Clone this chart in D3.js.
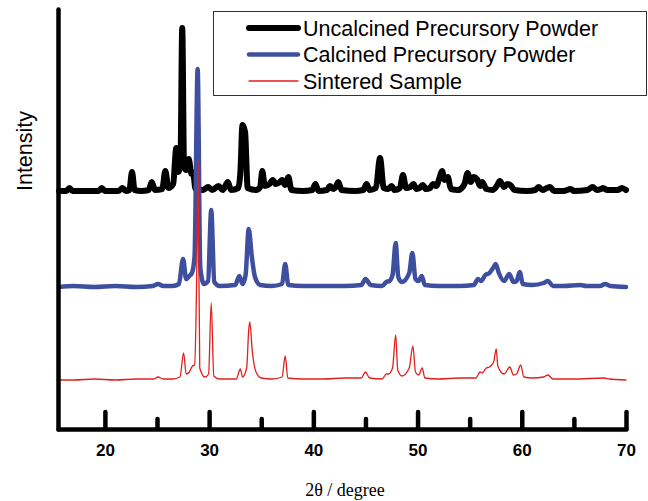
<!DOCTYPE html>
<html lang="en">
<head>
    <meta charset="utf-8">
    <title>XRD</title>
    <script src="https://d3js.org/d3.v7.min.js"></script>
    <style>
        body { margin: 0; background: #fff; }
    </style>
</head>
<body>
<svg width="648" height="501"></svg>
<script>
    // 2θ (degree), intensity (a.u.)
    var uncalcined = [
        [15.6,1],[16.3,1],[16.6,4],[16.9,1],[18.0,1],[19.4,1],[19.7,4],[20.0,1],[21.3,1],[21.7,4],[22.0,1],
        [22.35,2],[22.6,20],[22.85,2],[23.5,1],[24.2,2],[24.5,10],[24.8,2],[25.5,3],[25.8,21],[26.1,4],
        [26.55,8],[26.85,44],[27.05,20],[27.25,30],[27.42,164],[27.6,25],[27.8,22],[28.05,33],[28.3,18],
        [28.45,20],[28.7,3],[29.4,2],[29.9,5],[30.3,2],[30.9,6],[31.3,2],[31.8,10],[32.1,2],[32.8,4],
        [33.0,20],[33.2,67],[33.45,60],[33.7,4],[34.5,2],[34.9,5],[35.1,21],[35.35,6],[35.8,8],[36.1,12],
        [36.4,8],[36.8,10],[37.0,12],[37.3,7],[37.6,15],[37.9,2],[39.0,1],[39.9,2],[40.2,8],[40.5,1],
        [41.3,2],[41.6,6],[41.9,3],[42.2,6],[42.4,10],[42.7,2],[44.0,1],[44.8,2],[45.1,8],[45.4,2],
        [46.0,4],[46.4,34],[46.75,4],[47.2,3],[47.5,6],[47.8,2],[48.3,4],[48.6,17],[48.9,4],[49.3,5],
        [49.6,8],[49.9,3],[50.2,4],[50.5,7],[50.8,3],[51.2,4],[51.5,8],[51.8,6],[52.1,14],[52.35,21],
        [52.6,12],[52.9,15],[53.2,3],[53.9,2],[54.5,8],[54.8,19],[55.1,10],[55.4,15],[55.7,13],[56.0,6],
        [56.2,10],[56.6,3],[57.2,2],[57.6,6],[57.9,11],[58.3,5],[58.6,8],[58.9,7],[59.3,2],[60.5,1],
        [61.3,2],[61.6,5],[62.0,2],[62.4,4],[62.7,5],[63.1,1],[64.0,1],[64.7,3],[65.0,1],[66.3,2],
        [66.8,5],[67.2,2],[67.6,3],[67.8,4],[68.2,2],[69.2,2],[69.6,4],[70,2]
    ];
    var calcined = [
        [15.6,0],[17,1],[19,0],[21,1],[23,0],[24.6,1],[25.1,3],[25.6,1],[26.5,1],[27.1,3],[27.5,28],
        [27.8,8],[28.1,11],[28.35,14],[28.6,30],[28.9,218],[29.15,20],[29.5,3],[29.9,6],[30.2,77],[30.5,5],
        [31,1],[32.5,2],[32.9,11],[33.2,3],[33.5,12],[33.8,58],[34.1,30],[34.4,10],[34.9,2],[36,1],
        [37.0,3],[37.3,23],[37.6,2],[39,1],[41,1],[43,1],[44.6,2],[45.0,8],[45.5,2],[46.6,1],[47.0,5],
        [47.3,6],[47.6,12],[47.9,44],[48.15,10],[48.5,5],[49.2,14],[49.5,34],[49.8,8],[50.1,6],[50.4,11],
        [50.7,2],[52,1],[54,1],[55.4,2],[55.8,8],[56.1,6],[56.5,12],[56.9,14],[57.3,20],[57.5,23],
        [57.8,14],[58.3,6],[58.8,13],[59.2,5],[59.5,6],[59.8,15],[60.1,3],[61,2],[62.1,4],[62.5,6],
        [63.0,1],[64,1],[65.6,2],[66.2,1],[67.5,1],[68.0,3],[68.5,1],[70,0]
    ];
    var sintered = [
        [15.6,0],[17,0],[19,1],[21,0],[23,1],[24.7,1],[25.1,3],[25.6,1],[26.5,1],[27.2,3],[27.55,27],
        [27.8,6],[28.1,8],[28.4,14],[28.6,15],[28.8,100],[28.93,218],[29.1,12],[29.6,3],[29.95,6],[30.2,77],
        [30.45,4],[31,1],[32.6,1],[33.0,11],[33.2,3],[33.6,12],[33.8,50],[33.9,58],[34.15,28],[34.5,8],
        [35,2],[36,1],[37.0,3],[37.3,24],[37.55,2],[39,1],[41,1],[43,2],[44.6,2],[45.0,8],[45.4,2],
        [46.6,1],[47.0,6],[47.2,6],[47.6,12],[47.9,45],[48.1,10],[48.5,4],[49.2,12],[49.55,34],[49.8,8],
        [50.1,5],[50.45,12],[50.7,2],[52,1],[54,2],[55.6,2],[56.0,8],[56.2,7],[56.6,12],[56.9,13],
        [57.3,18],[57.55,31],[57.7,14],[58.3,6],[58.85,13],[59.2,5],[59.5,6],[59.9,15],[60.2,3],[61,2],
        [62.1,3],[62.5,5],[63.0,1],[65,1],[67.9,2],[68.4,1],[70,0]
    ];
    var seriesNames = ["Uncalcined Precursory Powder", "Calcined Precursory Powder", "Sintered Sample"];
    var seriesOffsets = [237, 142, 49];   // vertical stacking of the patterns
    var majorTicks = [20, 30, 40, 50, 60, 70];
    var minorTicks = [25, 35, 45, 55, 65];

    var colors = ["#000000", "#3f4fa0", "#e0201e"];
    var widths = [6, 4.5, 1.3];

    var svg = d3.select("svg");
    var x = d3.scaleLinear().domain([15.5, 70]).range([58, 626]);
    var y = d3.scaleLinear().domain([0, 420]).range([429, 9]);

    var allSeries = [uncalcined, calcined, sintered];

    allSeries.forEach(function(d, i){
        var line = d3.line()
            .curve(d3.curveMonotoneX)
            .x(function(p){ return x(p[0]); })
            .y(function(p){ return y(p[1] + seriesOffsets[i]); });
        svg.append("path")
            .datum(d)
            .attr("d", line)
            .attr("fill", "none")
            .attr("stroke", colors[i])
            .attr("stroke-width", widths[i])
            .attr("stroke-linejoin", "round")
            .attr("stroke-linecap", "round");
    });

    // x axis, ticks pointing inward
    var xAxis = d3.axisBottom(x)
        .tickValues(majorTicks)
        .tickSize(-17)
        .tickSizeOuter(0)
        .tickPadding(15);
    var gx = svg.append("g")
        .attr("transform", "translate(0," + 429 + ")")
        .call(xAxis);
    var gxMinor = svg.append("g")
        .attr("transform", "translate(0," + 429 + ")")
        .call(d3.axisBottom(x).tickValues(minorTicks).tickSize(-10).tickSizeOuter(0).tickFormat(""));
    gxMinor.select(".domain").remove();

    var yAxis = d3.axisLeft(y).tickValues([]).tickSizeOuter(0);
    var gy = svg.append("g")
        .attr("transform", "translate(" + 58 + ",0)")
        .call(yAxis);

    svg.selectAll(".domain, .tick line")
        .attr("stroke", "#000")
        .attr("stroke-width", 4.5)
        .attr("stroke-linecap", "round");
    gx.selectAll(".tick text")
        .attr("font-family", "Liberation Sans, Arial, sans-serif")
        .attr("font-size", 17)
        .attr("font-weight", "bold")
        .attr("fill", "#000");

    svg.append("text")
        .attr("transform", "translate(25,151) rotate(-90)")
        .attr("text-anchor", "middle")
        .attr("dominant-baseline", "central")
        .attr("font-family", "Liberation Sans, Arial, sans-serif")
        .attr("font-size", 21.5)
        .text("Intensity");

    svg.append("text")
        .attr("x", 345)
        .attr("y", 496)
        .attr("text-anchor", "middle")
        .attr("font-family", "Liberation Serif, Times New Roman, serif")
        .attr("font-size", 18)
        .text("2θ / degree");

    // legend
    var legend = svg.append("g");
    legend.append("rect")
        .attr("x", 213.5).attr("y", 11.5)
        .attr("width", 433).attr("height", 84)
        .attr("fill", "#fff")
        .attr("stroke", "#333")
        .attr("stroke-width", 1);
    seriesNames.forEach(function(name, i){
        var ly = 28 + i * 26.5;
        legend.append("line")
            .attr("x1", 249).attr("x2", 298)
            .attr("y1", ly).attr("y2", ly)
            .attr("stroke", colors[i])
            .attr("stroke-width", widths[i])
            .attr("stroke-linecap", "round");
        legend.append("text")
            .attr("x", 303).attr("y", ly + 7.5)
            .attr("font-family", "Liberation Sans, Arial, sans-serif")
            .attr("font-size", 21.5)
            .text(name);
    });
</script>
</body>
</html>
